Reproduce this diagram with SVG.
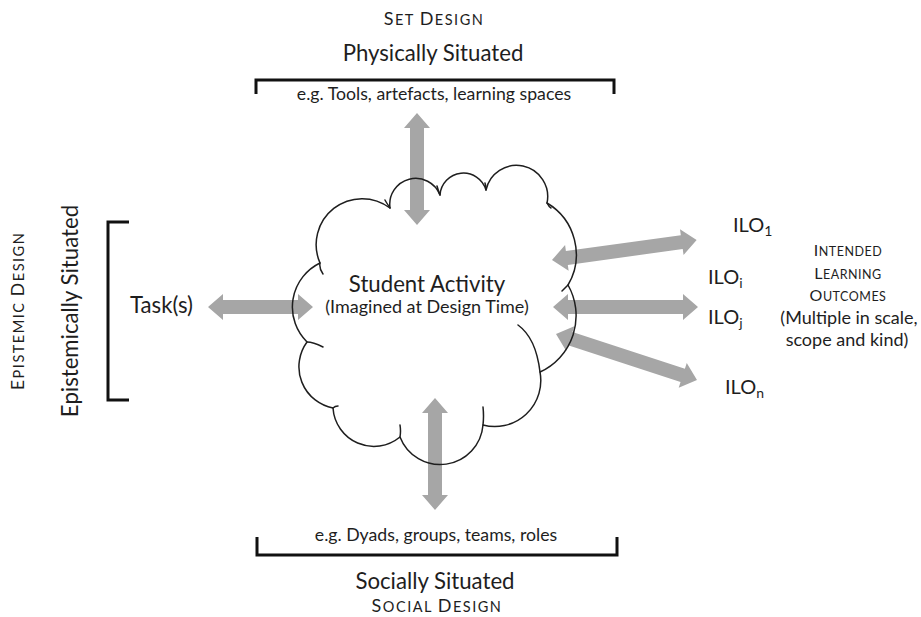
<svg xmlns="http://www.w3.org/2000/svg" width="921" height="617" viewBox="0 0 921 617">
<style>
  text { font-family: Lato, "Liberation Sans", sans-serif; fill: #1e1e1e; }
  .big { font-size: 22.2px; }
  .mid { font-size: 18px; }
  .sm { font-size: 17.7px; }
  .sc { letter-spacing: 1.5px; }
  .scB { font-size: 18px; }
  .scS { font-size: 14.5px; }
  .ilo { font-size: 20px; }
  .bracket { fill: none; stroke: #111; stroke-width: 3; }
  .arrow { fill: #a6a6a6; }
  .cloud { fill: none; stroke: #1e1e1e; stroke-width: 1.5; stroke-linejoin: round; stroke-linecap: round; }
</style>
<rect width="921" height="617" fill="#ffffff"/>

<g id="set-design">
  <text class="sc" x="434" y="25" text-anchor="middle"><tspan class="scB">S</tspan><tspan class="scS">ET </tspan><tspan class="scB">D</tspan><tspan class="scS">ESIGN</tspan></text>
  <text class="big" x="433" y="61" text-anchor="middle">Physically Situated</text>
  <path class="bracket" d="M256,94 V80 H614 V94"/>
  <text class="sm" x="434" y="100" text-anchor="middle">e.g. Tools, artefacts, learning spaces</text>
</g>

<g id="epistemic-design">
  <text class="sc" transform="translate(24,311) rotate(-90)" text-anchor="middle"><tspan class="scB">E</tspan><tspan class="scS">PISTEMIC </tspan><tspan class="scB">D</tspan><tspan class="scS">ESIGN</tspan></text>
  <text class="big" transform="translate(78,311) rotate(-90)" text-anchor="middle" font-size="23.2">Epistemically Situated</text>
  <path class="bracket" d="M129,222 H108 V400 H129"/>
</g>

<g id="task">
  <text class="big" x="130" y="313" font-size="22.8">Task(s)</text>
</g>

<g id="connectors">
  <polygon class="arrow" transform="translate(417,113) rotate(90)" points="0,0 15,-13 15,-7 97,-7 97,-13 112,0 97,13 97,7 15,7 15,13"/>
  <polygon class="arrow" transform="translate(435,398) rotate(90)" points="0,0 15,-13 15,-7 97,-7 97,-13 112,0 97,13 97,7 15,7 15,13"/>
  <polygon class="arrow" transform="translate(208,307)" points="0,0 15,-13 15,-7 90,-7 90,-13 105,0 90,13 90,7 15,7 15,13"/>
  <polygon class="arrow" transform="translate(552,260) rotate(-7.85)" points="0,0 15,-13 15,-7 131,-7 131,-13 146,0 131,13 131,7 15,7 15,13"/>
  <polygon class="arrow" transform="translate(553,307)" points="0,0 15,-13 15,-7 130,-7 130,-13 145,0 130,13 130,7 15,7 15,13"/>
  <polygon class="arrow" transform="translate(556,334) rotate(18.07)" points="0,0 15,-13 15,-7 133.3,-7 133.3,-13 148.3,0 133.3,13 133.3,7 15,7 15,13"/>
</g>

<g id="student-activity">
  <path class="cloud" d="M320,263 A46,46 0 0 1 390,208 A26,26 0 0 1 440,195 A23.5,23.5 0 0 1 486,190 A31,31 0 0 1 547,203 A60,60 0 0 1 568,285 A62,62 0 0 1 540,372 A46,46 0 0 1 483,425 A43,43 0 0 1 400,437 A41,41 0 0 1 333,408 A42,42 0 0 1 307,342 A49,49 0 0 1 320,263 Z"/>
  <path class="cloud" d="M320,263 Q319,269 323,274 M390,208 Q386,202 385,200 M440,195 Q438,190 437,186 M486,190 Q486,186 485,183 M547,203 Q549,207 551,208 M568,285 Q565,288 562,291 M540,372 Q536,338 518,325 M483,425 Q484,416 483,407 M400,437 Q401,431 400,425 M333,408 Q335,406 338,406 M307,342 Q313,342 323,347"/>
  <text class="big" x="427" y="292" text-anchor="middle" font-size="21.5">Student Activity</text>
  <text class="mid" x="427" y="313" text-anchor="middle">(Imagined at Design Time)</text>
</g>

<g id="ilo-1"><text class="ilo" x="733" y="232">ILO<tspan font-size="14" dy="4">1</tspan></text></g>
<g id="ilo-i"><text class="ilo" x="708" y="284">ILO<tspan font-size="14" dy="4">i</tspan></text></g>
<g id="ilo-j"><text class="ilo" x="708" y="324">ILO<tspan font-size="14" dy="4">j</tspan></text></g>
<g id="ilo-n"><text class="ilo" x="725" y="394">ILO<tspan font-size="14" dy="4">n</tspan></text></g>

<g id="intended-learning-outcomes">
  <text x="848" y="256" text-anchor="middle" letter-spacing="0.5"><tspan font-size="16">I</tspan><tspan font-size="12.5">NTENDED</tspan></text>
  <text x="848" y="279" text-anchor="middle" letter-spacing="0.5"><tspan font-size="16">L</tspan><tspan font-size="12.5">EARNING</tspan></text>
  <text x="848" y="301" text-anchor="middle" letter-spacing="0.5"><tspan font-size="16">O</tspan><tspan font-size="12.5">UTCOMES</tspan></text>
  <text class="mid" x="849" y="324" text-anchor="middle">(Multiple in scale,</text>
  <text class="mid" x="847" y="346" text-anchor="middle">scope and kind)</text>
</g>

<g id="social-design">
  <text class="sm" x="436" y="541" text-anchor="middle">e.g. Dyads, groups, teams, roles</text>
  <path class="bracket" d="M257,537 V555 H617 V537"/>
  <text class="big" x="435" y="589" text-anchor="middle" font-size="22.5">Socially Situated</text>
  <text class="sc" x="437" y="612" text-anchor="middle"><tspan class="scB">S</tspan><tspan class="scS">OCIAL </tspan><tspan class="scB">D</tspan><tspan class="scS">ESIGN</tspan></text>
</g>
</svg>
